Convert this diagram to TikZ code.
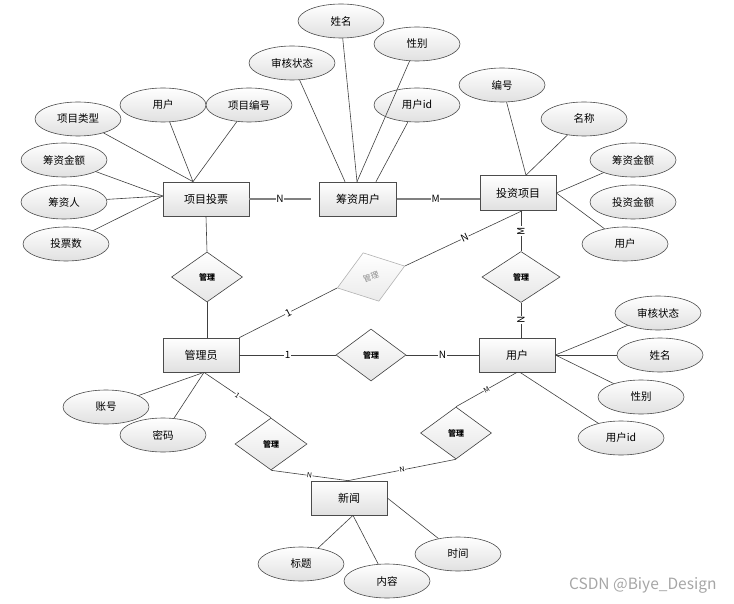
\documentclass[tikz,border=0pt]{standalone}
\usepackage{fontspec}
\setmainfont{Noto Sans CJK SC}
\usetikzlibrary{shapes.geometric,calc}
\begin{document}
\begin{tikzpicture}[x=1pt,y=-1pt,
  ent/.style={rectangle, draw=black!70, line width=0.7pt, top color=white, bottom color=black!12,
    minimum width=76pt, minimum height=34pt, inner sep=0pt, font=\fontsize{11}{12}\selectfont},
  attr/.style={ellipse, draw=black!70, line width=0.6pt, top color=white, bottom color=black!12,
    minimum width=86pt, minimum height=34pt, inner sep=0pt, font=\fontsize{10.5}{12}\selectfont},
  rel/.style={diamond, draw=black!75, line width=0.6pt, top color=white, bottom color=black!10,
    minimum width=71pt, minimum height=51pt, inner sep=0pt, font=\bfseries\fontsize{8}{9}\selectfont},
  grel/.style={diamond, draw=black!30, line width=0.6pt, top color=white, bottom color=black!8,
    minimum width=71pt, minimum height=51pt, inner sep=0pt, text=black!45, font=\fontsize{8}{9}\selectfont},
  ln/.style={draw=black!75, line width=0.6pt},
  gln/.style={draw=black!50, line width=1.3pt},
  lab/.style={fill=white, inner sep=0.6pt, font=\fontsize{10}{10}\selectfont},
  slab/.style={fill=white, inner sep=0.4pt, font=\fontsize{7}{7}\selectfont}
]
\useasboundingbox (0,0) rectangle (734,604);

% entities
\node[ent, minimum width=86pt] (xmtp) at (206,199) {项目投票};
\node[ent, minimum width=77pt] (czyh) at (358,199) {筹资用户};
\node[ent, minimum height=35pt] (tzxm) at (518,193) {投资项目};
\node[ent] (gly) at (201,355) {管理员};
\node[ent] (yh) at (517,355) {用户};
\node[ent] (xw) at (349,498) {新闻};

% relationships
\node[rel, minimum width=71pt, minimum height=50pt] (r1) at (207,277) {管理};
\node[grel, rotate=18] (r2) at (371,277) {管理};
\node[rel, minimum width=78pt] (r3) at (521,277) {管理};
\node[rel, minimum width=70pt, minimum height=52pt] (r4) at (371,355) {管理};
\node[rel, minimum width=72pt, minimum height=52pt] (r5) at (271,444) {管理};
\node[rel, minimum width=71pt, minimum height=52pt] (r6) at (456,433) {管理};

% attributes
\node[attr] (axm1) at (341,21) {姓名};
\node[attr] (ashzt1) at (292,63) {审核状态};
\node[attr] (ayh1) at (163,105) {用户};
\node[attr] (axmbh) at (249,105) {项目编号};
\node[attr] (axmlx) at (78,119) {项目类型};
\node[attr] (aczje1) at (64,160) {筹资金额};
\node[attr] (aczr) at (64,202) {筹资人};
\node[attr] (atps) at (66,244) {投票数};
\node[attr] (axb1) at (417,44) {性别};
\node[attr] (ayhid1) at (417,105) {用户id};
\node[attr] (abh) at (502,85) {编号};
\node[attr] (amc) at (584,119) {名称};
\node[attr] (aczje2) at (633,160) {筹资金额};
\node[attr] (atzje) at (633,202) {投资金额};
\node[attr] (ayh2) at (625,244) {用户};
\node[attr] (azh) at (106,407) {账号};
\node[attr] (amm) at (163,435) {密码};
\node[attr] (abt) at (301,564) {标题};
\node[attr] (ashzt2) at (658,313) {审核状态};
\node[attr] (axm2) at (660,355) {姓名};
\node[attr] (axb2) at (641,397) {性别};
\node[attr] (ayhid2) at (621,438) {用户id};
\node[attr] (asj) at (458,554) {时间};
\node[attr] (anr) at (387,581) {内容};

% anchor points
\coordinate (xmtpT) at ($(xmtp.north)+(-13,0)$);
\coordinate (xmtpL) at ($(xmtp.west)+(0,-3)$);
\coordinate (czyhT1) at ($(czyh.north)+(-13,0)$);
\coordinate (czyhT2) at ($(czyh.north)+(-1,0)$);
\coordinate (czyhT3) at ($(czyh.north)+(18,0)$);
\coordinate (tzxmT) at ($(tzxm.north)+(8,0)$);
\coordinate (tzxmB) at ($(tzxm.south)+(4,0)$);
\coordinate (glyB) at ($(gly.south)+(3,0)$);
\coordinate (yhB) at ($(yh.south)+(3,0)$);
\coordinate (xwB) at ($(xw.south)+(4,0)$);
\coordinate (xwT) at ($(xw.north)+(-1,0)$);

% attribute lines
\draw[ln] (axmlx) -- (xmtpT);
\draw[ln] (ayh1) -- (xmtpT);
\draw[ln] (axmbh) -- (xmtpT);
\draw[ln] (aczje1) -- (xmtpL);
\draw[ln] (aczr) -- (xmtpL);
\draw[ln] (atps) -- (xmtpL);
\draw[ln] (ashzt1) -- (czyhT1);
\draw[ln] (axm1) -- (czyhT2);
\draw[ln] (axb1) -- (czyhT2);
\draw[ln] (ayhid1) -- (czyhT3);
\draw[ln] (abh) -- (tzxmT);
\draw[ln] (amc) -- (tzxmT);
\draw[ln] (aczje2) -- (tzxm.east);
\draw[ln] (ayh2) -- (tzxm.east);
\draw[ln] (azh) -- (glyB);
\draw[ln] (amm) -- (glyB);
\draw[ln] (ashzt2) -- (yh.east);
\draw[ln] (axm2) -- (yh.east);
\draw[ln] (axb2) -- (yh.east);
\draw[ln] (ayhid2) -- (yhB);
\draw[ln] (abt) -- (xwB);
\draw[ln] (anr) -- (xwB);
\draw[ln] (asj) -- (xw.east);

% relationship lines
\draw[gln, shorten >=8pt] (xmtp.east) -- node[lab, pos=0.44] {N} (czyh.west);
\draw[gln] (czyh.east) -- node[lab, pos=0.47] {M} (czyh.east -| tzxm.west);
\draw[ln] (xmtp.south) -- (r1.north);
\draw[ln] (r1.south) -- (r1.south |- gly.north);
\draw[ln] (gly.north east) -- node[lab, sloped] {1} (r2.west);
\draw[ln] (r2.east) -- node[lab, sloped, pos=0.51] {N} (tzxmB);
\draw[ln] (r3.north |- tzxm.south) -- node[lab, rotate=90] {M} (r3.north);
\draw[ln] (r3.south) -- node[lab, rotate=90] {N} (r3.south |- yh.north);
\draw[ln] (gly.east) -- node[lab] {1} (r4.west);
\draw[ln] (r4.east) -- node[lab] {N} (yh.west);
\draw[ln] (glyB) -- node[slab, sloped] {1} (r5.north);
\draw[ln] (yh.south) -- node[slab, sloped] {M} (r6.north);
\draw[ln] (r5.south) -- node[slab, sloped] {N} (xwT);
\draw[ln] (r6.south) -- node[slab, sloped] {N} (xwT);

% watermark
\node[text=black!35, font=\fontsize{15.5}{16}\selectfont, anchor=east] (wm) at (720,585) {CSDN @Biye\_Design};
\end{tikzpicture}
\end{document}
